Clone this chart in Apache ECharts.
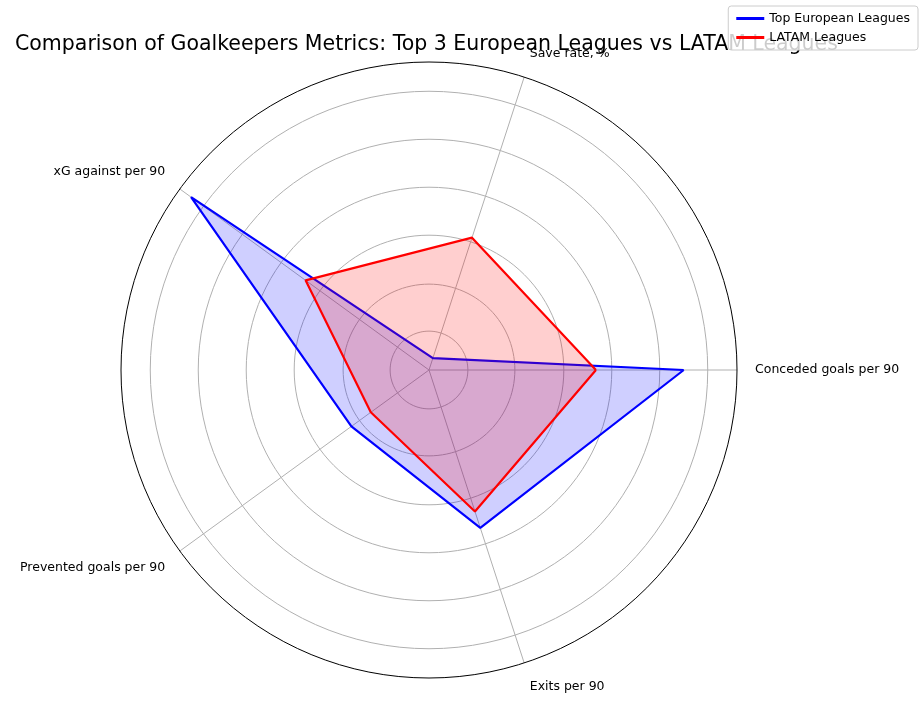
<!DOCTYPE html>
<html>
<head>
<meta charset="utf-8">
<script src="https://cdn.jsdelivr.net/npm/echarts@6/dist/echarts.min.js"></script>
<style>html,body{margin:0;background:#fff}#chart{width:924px;height:701px}</style>
</head>
<body>
<div id="chart"></div>
<script>
const metrics = ['Conceded goals per 90', 'Save rate, %', 'xG against per 90', 'Prevented goals per 90', 'Exits per 90'];
const angles = [0, 72, 144, 216, 288];
const europe = [5.31, 0.26, 6.13, 2.0, 3.46];
const latam = [3.48, 2.9, 3.18, 1.5, 3.1];
const rings = [0.81, 1.79, 2.81, 3.81, 4.81, 5.81];
const rMax = 6.42;

function closed(vals) {
    const pts = vals.map((v, i) => [v, angles[i]]);
    pts.push(pts[0]);
    return pts;
}

const ringSeries = rings.map(r => {
    const pts = [];
    for (let a = 0; a <= 360; a += 3) pts.push([r, a]);
    return {
        type: 'line', coordinateSystem: 'polar', data: pts, symbol: 'none', silent: true,
        lineStyle: { color: '#b0b0b0', width: 1 }, z: 1
    };
});

const chart = echarts.init(document.getElementById('chart'));
chart.setOption({
    animation: false,
    title: {
        text: 'Comparison of Goalkeepers Metrics: Top 3 European Leagues vs LATAM Leagues',
        left: 10, top: 29,
        textStyle: { fontFamily: 'DejaVu Sans', fontSize: 20.5, fontWeight: 'normal', color: '#000' }
    },
    legend: {
        right: 6, top: 6, orient: 'vertical', z: 10,
        backgroundColor: 'rgba(255,255,255,0.8)', borderColor: '#ccc', borderWidth: 1, borderRadius: 3,
        padding: [6, 8], itemGap: 6, itemWidth: 28, itemHeight: 10,
        icon: 'path://M0,3.5L28,3.5L28,6.5L0,6.5Z',
        textStyle: { fontFamily: 'DejaVu Sans', fontSize: 12.5, color: '#000' },
        data: ['Top European Leagues', 'LATAM Leagues']
    },
    polar: { center: [429, 370], radius: 308 },
    angleAxis: {
        type: 'value', min: 0, max: 360, interval: 72, startAngle: 0, clockwise: false,
        axisLine: { lineStyle: { color: '#000', width: 1 } },
        axisTick: { show: false },
        splitLine: { show: true, lineStyle: { color: '#b0b0b0', width: 1 } },
        axisLabel: {
            margin: 18, align: 'center', verticalAlign: 'middle',
            color: '#000', fontFamily: 'DejaVu Sans', fontSize: 12.5,
            formatter: v => { const i = angles.indexOf(v); return i >= 0 ? metrics[i] : ''; }
        }
    },
    radiusAxis: {
        type: 'value', min: 0, max: rMax,
        axisLine: { show: false }, axisTick: { show: false }, axisLabel: { show: false },
        splitLine: { show: false }
    },
    series: ringSeries.concat([
        {
            name: 'Top European Leagues', type: 'line', coordinateSystem: 'polar', data: closed(europe),
            symbol: 'none', lineStyle: { color: '#0000ff', width: 2.2 }, itemStyle: { color: '#0000ff' },
            areaStyle: { color: 'rgba(0,0,255,0.27)' }, z: 3
        },
        {
            name: 'LATAM Leagues', type: 'line', coordinateSystem: 'polar', data: closed(latam),
            symbol: 'none', lineStyle: { color: '#ff0000', width: 2.2 }, itemStyle: { color: '#ff0000' },
            areaStyle: { color: 'rgba(255,0,0,0.27)' }, z: 4
        }
    ])
});
</script>
</body>
</html>
